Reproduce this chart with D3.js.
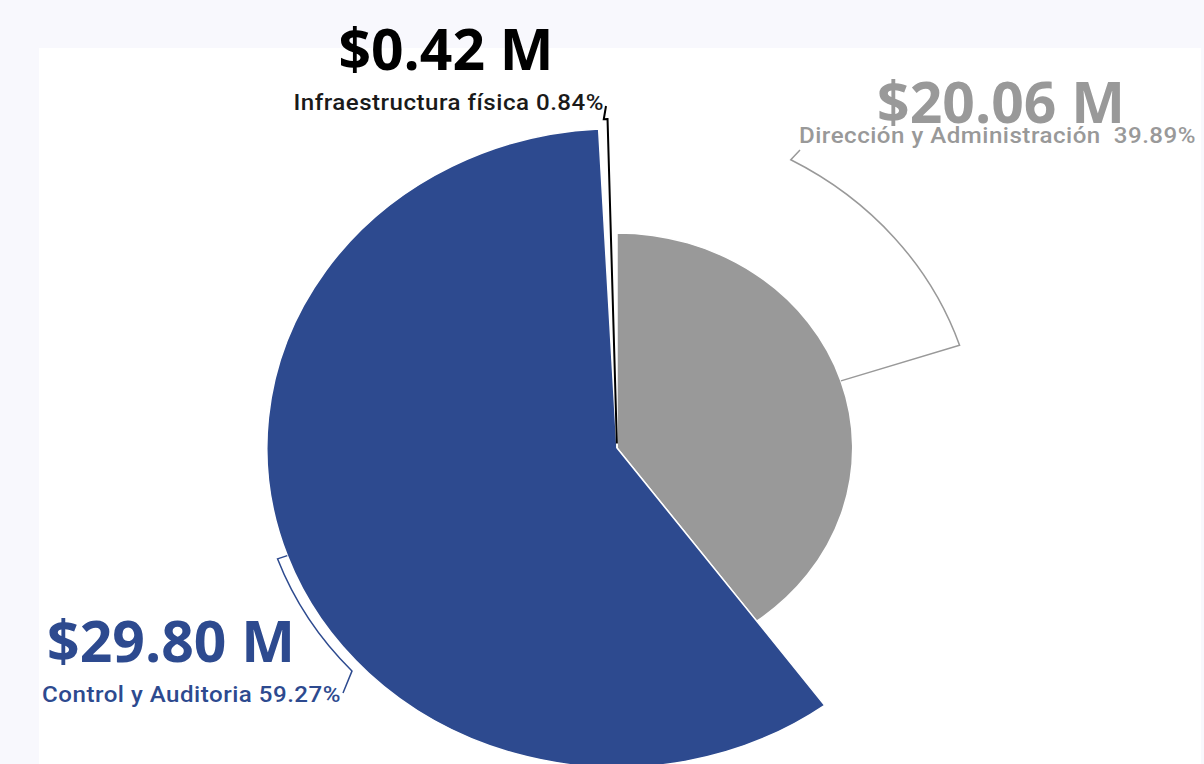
<!DOCTYPE html>
<html>
<head>
<meta charset="utf-8">
<script src="https://cdn.jsdelivr.net/npm/d3@7"></script>
<style>
  html, body { margin: 0; padding: 0; background: #f8f8fd; }
  svg { display: block; }
</style>
</head>
<body>
<div id="chart"></div>
<script>
// data, in the drawing order (clockwise from 12 o'clock)
var categories = ["Dirección y Administración", "Control y Auditoria", "Infraestructura física"];
var amounts = [20.06, 29.80, 0.42];          // millions
var shares = ["39.89%", "59.27%", "0.84%"];
var colors = ["#999999", "#2d4a8f", "#000000"];

var width = 1204, height = 764;
var cx = 617, cy = 448, stretch = 1.096;

var svg = d3.select("#chart").append("svg")
    .attr("width", width)
    .attr("height", height);

svg.append("rect")
    .attr("width", width).attr("height", height)
    .attr("fill", "#f8f8fd");
svg.append("rect")
    .attr("x", 39).attr("y", 48)
    .attr("width", 1162).attr("height", height - 48)
    .attr("fill", "#ffffff");

// radius grows with the amount
var r = d3.scaleLinear()
    .domain([0, d3.max(amounts)])
    .range([0, 319.5]);

var datas = categories.map(function(c, i){
  return {name: c, value: amounts[i], share: shares[i], color: colors[i]};
});

var pie = d3.pie()
    .sort(null)
    .value(function(d){ return d.value; });

var arcs = pie(datas);

var g = svg.append("g")
    .attr("transform", "translate(" + cx + "," + cy + ") scale(" + stretch + ",1)");

var arc = d3.arc()
    .innerRadius(0)
    .outerRadius(function(d){ return r(d.data.value); });

g.selectAll("path.slice")
    .data(arcs)
    .enter().append("path")
    .attr("class", "slice")
    .attr("d", arc)
    .attr("fill", function(d){ return d.data.color; })
    .attr("stroke", "#ffffff")
    .attr("stroke-width", 1.5)
    .attr("vector-effect", "non-scaling-stroke");

// bracket leaders: out from the slice at its mid angle, along a ring, then to the label
var ring = 329;
var layout = [
  {back: 43, end: [800, 150], textX: 799, valueY: 123, labelY: 143, anchor: "start", valueX: 1001},
  {back: 23, end: [343, 693], textX: 341, valueY: 662, labelY: 702, anchor: "end", valueX: 171},
  {back: 0.6, end: [606, 106], textX: 604, valueY: 70, labelY: 110, anchor: "end", valueX: 446}
];

function toLocal(p){ return [(p[0] - cx) / stretch, p[1] - cy]; }

g.selectAll("path.leader")
    .data(arcs)
    .enter().append("path")
    .attr("class", "leader")
    .attr("d", function(d, i){
      var mid = (d.startAngle + d.endAngle) / 2;
      var a1 = mid - layout[i].back * Math.PI / 180;
      var p = d3.path();
      var s = d3.pointRadial(mid, r(d.data.value));
      p.moveTo(s[0], s[1]);
      var o = d3.pointRadial(mid, ring);
      p.lineTo(o[0], o[1]);
      p.arc(0, 0, ring, mid - Math.PI / 2, a1 - Math.PI / 2, true);
      var e = toLocal(layout[i].end);
      p.lineTo(e[0], e[1]);
      return p.toString();
    })
    .attr("fill", "none")
    .attr("stroke", function(d){ return d.data.color; })
    .attr("stroke-width", function(d, i){ return i == 2 ? 2 : 1.5; })
    .attr("vector-effect", "non-scaling-stroke");

// amount labels
svg.selectAll("text.value")
    .data(datas)
    .enter().append("text")
    .attr("class", "value")
    .attr("x", function(d, i){ return layout[i].valueX; })
    .attr("y", function(d, i){ return layout[i].valueY; })
    .attr("text-anchor", "middle")
    .attr("fill", function(d){ return d.color; })
    .style("font-family", "'Open Sans', sans-serif")
    .style("font-weight", 700)
    .style("font-size", "57px")
    .text(function(d){ return "$" + d.value.toFixed(2) + " M"; });

// name + share labels (the source is slightly wide, so stretch them too)
svg.selectAll("text.label")
    .data(datas)
    .enter().append("text")
    .attr("class", "label")
    .attr("transform", function(d, i){
      return "translate(" + layout[i].textX + "," + layout[i].labelY + ") scale(" + stretch + ",1)";
    })
    .attr("text-anchor", function(d, i){ return layout[i].anchor; })
    .attr("fill", function(d){ return d.color == "#000000" ? "#1a1a1a" : d.color; })
    .style("font-family", "Roboto, sans-serif")
    .style("font-weight", 500)
    .style("font-size", "22px")
    .style("letter-spacing", "0.45px")
    .style("white-space", "pre")
    .text(function(d, i){ return d.name + (i == 0 ? "  " : " ") + d.share; });
</script>
</body>
</html>
